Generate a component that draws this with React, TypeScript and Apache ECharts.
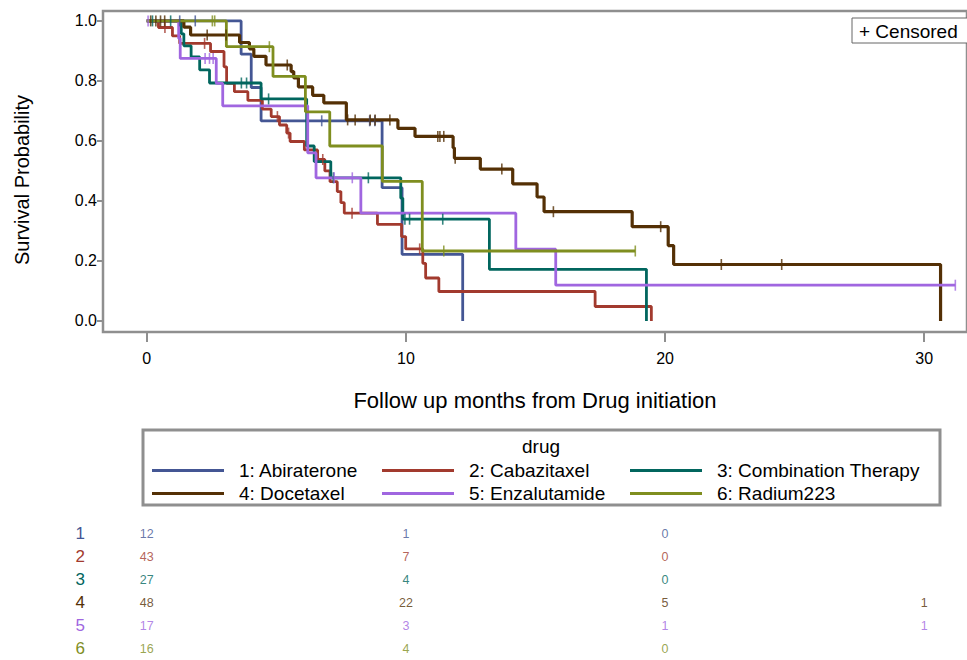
import React, { useEffect, useRef } from "react";
import * as echarts from "echarts";

const FONT = "'Liberation Sans', Arial, sans-serif";

const DRUGS = [
  "1: Abiraterone",
  "2: Cabazitaxel",
  "3: Combination Therapy",
  "4: Docetaxel",
  "5: Enzalutamide",
  "6: Radium223",
];
const COLORS = ["#445694", "#A23A2E", "#01665E", "#543005", "#A066E0", "#7F8E1F"];
const ROWS = ["1", "2", "3", "4", "5", "6"];

// Kaplan-Meier steps: event times (months) and survival after each event; censoring times
const abiTimes = [3.64, 4.03, 4.41, 9.08, 9.85, 12.19];
const abiSurv = [0.889, 0.778, 0.667, 0.444, 0.222, 0];
const abiCensor = [1.27, 1.87, 6.75, 8.6, 8.8];

const cabTimes = [0.45, 0.99, 1.27, 2.46, 2.98, 3.08, 3.38, 3.9, 4.46, 4.8, 5.12, 5.4, 5.53, 6.08, 6.59, 6.87, 7.07, 7.35, 7.49, 7.62, 8.9, 9.83, 9.99, 10.65, 10.76, 11.27, 17.3, 19.47];
const cabSurv = [0.978, 0.95, 0.925, 0.898, 0.847, 0.792, 0.764, 0.735, 0.706, 0.681, 0.653, 0.626, 0.598, 0.57, 0.538, 0.5, 0.464, 0.431, 0.394, 0.359, 0.322, 0.281, 0.24, 0.192, 0.143, 0.098, 0.048, 0];
const cabCensor = [0.7, 2.23, 5.04, 5.47, 6.79, 7.92, 10.53];

const combTimes = [1.33, 1.43, 1.71, 2.04, 2.42, 4.41, 6.17, 6.46, 7.1, 9.8, 9.88, 13.22, 19.28];
const combSurv = [0.957, 0.917, 0.88, 0.837, 0.793, 0.74, 0.583, 0.531, 0.477, 0.409, 0.339, 0.172, 0];
const combCensor = [0.22, 0.92, 3.65, 3.85, 4.7, 7.2, 8.55, 9.96, 10.14, 11.42];

const docTimes = [1.43, 1.69, 3.58, 3.96, 4.13, 4.6, 5.57, 5.67, 5.85, 6.4, 6.83, 7.7, 9.69, 10.35, 11.82, 11.87, 12.87, 14.12, 15.06, 15.33, 18.73, 20.12, 20.33, 30.63];
const docSurv = [0.979, 0.953, 0.928, 0.907, 0.882, 0.853, 0.831, 0.81, 0.78, 0.752, 0.727, 0.67, 0.642, 0.615, 0.577, 0.542, 0.506, 0.457, 0.413, 0.364, 0.314, 0.251, 0.188, 0];
const docCensor = [0.15, 0.35, 0.53, 0.69, 2.33, 3.06, 5.42, 7.75, 8.04, 8.62, 8.81, 9.38, 11.23, 11.31, 11.46, 11.9, 13.7, 15.69, 19.83, 22.17, 24.5];

const enzTimes = [1.23, 1.29, 2.68, 2.93, 6.21, 6.53, 8.26, 14.24, 15.78];
const enzSurv = [0.941, 0.875, 0.792, 0.717, 0.56, 0.477, 0.359, 0.239, 0.119];
const enzCensor = [0.05, 2.25, 2.42, 2.56, 7.23, 7.93, 31.2];

const radTimes = [3.07, 4.87, 6.12, 7.06, 9.09, 10.63];
const radSurv = [0.914, 0.815, 0.697, 0.583, 0.465, 0.233];
const radCensor = [2.53, 2.62, 4.73, 11.46, 18.85];

// Number at risk
const RISK_TIMES = [0, 10, 20, 30];
const abiRisk = [12, 1, 0];
const cabRisk = [43, 7, 0];
const combRisk = [27, 4, 0];
const docRisk = [48, 22, 5, 1];
const enzRisk = [17, 3, 1, 1];
const radRisk = [16, 4, 0];

const X_TICKS = [0, 10, 20, 30];
const Y_TICKS = [0, 0.2, 0.4, 0.6, 0.8, 1.0];
const X_TITLE = "Follow up months from Drug initiation";
const Y_TITLE = "Survival Probability";

const CURVES = [
  { times: abiTimes, surv: abiSurv, censor: abiCensor, risk: abiRisk },
  { times: cabTimes, surv: cabSurv, censor: cabCensor, risk: cabRisk },
  { times: combTimes, surv: combSurv, censor: combCensor, risk: combRisk },
  { times: docTimes, surv: docSurv, censor: docCensor, risk: docRisk },
  { times: enzTimes, surv: enzSurv, censor: enzCensor, risk: enzRisk },
  { times: radTimes, surv: radSurv, censor: radCensor, risk: radRisk },
];

const X_MIN = -1.69;
const X_MAX = 31.65;
const Y_MIN = -0.037;
const Y_MAX = 1.033;

function survivalAt(times: number[], surv: number[], t: number): number {
  let s = 1;
  for (let i = 0; i < times.length; i++) {
    if (times[i] <= t) s = surv[i];
  }
  return s;
}

function stepData(times: number[], surv: number[], censor: number[]): number[][] {
  const pts: number[][] = [[0, 1]];
  times.forEach((t, i) => pts.push([t, surv[i]]));
  const lastEvent = times[times.length - 1];
  const lastCensor = Math.max(...censor);
  if (lastCensor > lastEvent) pts.push([lastCensor, surv[surv.length - 1]]);
  return pts;
}

export default function App() {
  const ref = useRef<HTMLDivElement>(null);

  useEffect(() => {
    if (!ref.current) return;
    const chart = echarts.init(ref.current, undefined, { renderer: "svg" });

    const series: any[] = [];
    CURVES.forEach((c, i) => {
      series.push({
        name: DRUGS[i],
        type: "line",
        step: "end",
        xAxisIndex: 0,
        yAxisIndex: 0,
        data: stepData(c.times, c.surv, c.censor),
        symbol: "none",
        showSymbol: false,
        color: COLORS[i],
        lineStyle: { color: COLORS[i], width: i === 3 ? 3.2 : 2.8 },
        itemStyle: { color: COLORS[i] },
        z: 2,
        silent: true,
      });
      series.push({
        name: DRUGS[i] + " (censored)",
        type: "scatter",
        xAxisIndex: 0,
        yAxisIndex: 0,
        data: c.censor.map((t) => [t, survivalAt(c.times, c.surv, t)]),
        symbol: "rect",
        symbolSize: [1.6, 11],
        itemStyle: { color: COLORS[i] },
        z: 3,
        silent: true,
      });
      series.push({
        name: DRUGS[i] + " (at risk)",
        type: "scatter",
        xAxisIndex: 1,
        yAxisIndex: 1,
        data: c.risk.map((n, j) => [RISK_TIMES[j], ROWS[i], n]),
        symbolSize: 1,
        itemStyle: { color: "rgba(0,0,0,0)" },
        label: {
          show: true,
          position: "inside",
          formatter: (p: any) => String(p.value[2]),
          color: COLORS[i],
          fontSize: 12.5,
          fontFamily: FONT,
        },
        silent: true,
      });
    });

    const colX = [152, 382, 630];
    const rowY = [472, 495];
    const legends = DRUGS.map((d, i) => ({
      left: colX[i % 3],
      top: rowY[Math.floor(i / 3)] - 11,
      data: [d],
      icon: "rect",
      itemWidth: 72,
      itemHeight: 3,
      padding: 0,
      selectedMode: false,
      textStyle: { fontSize: 19, color: "#000", fontFamily: FONT, padding: [0, 0, 0, 10] },
    }));

    chart.setOption({
      animation: false,
      textStyle: { fontFamily: FONT },
      grid: [
        {
          left: 103,
          top: 11,
          width: 867,
          height: 321,
          show: true,
          borderColor: "#8f8f8f",
          borderWidth: 2.5,
          backgroundColor: "transparent",
        },
        { left: 103, top: 522, width: 867, height: 144 },
      ],
      xAxis: [
        {
          type: "value",
          gridIndex: 0,
          min: X_MIN,
          max: X_MAX,
          axisLine: { show: false, onZero: false },
          splitLine: { show: false },
          axisTick: {
            show: true,
            customValues: X_TICKS,
            length: 10,
            lineStyle: { color: "#8f8f8f", width: 2 },
          },
          axisLabel: { customValues: X_TICKS, margin: 18, fontSize: 16, color: "#000", fontFamily: FONT },
          name: X_TITLE,
          nameLocation: "middle",
          nameGap: 57,
          nameTextStyle: { fontSize: 22, color: "#000", fontFamily: FONT },
        },
        { type: "value", gridIndex: 1, min: X_MIN, max: X_MAX, show: false },
      ],
      yAxis: [
        {
          type: "value",
          gridIndex: 0,
          min: Y_MIN,
          max: Y_MAX,
          axisLine: { show: false, onZero: false },
          splitLine: { show: false },
          axisTick: {
            show: true,
            customValues: Y_TICKS,
            length: 6,
            lineStyle: { color: "#8f8f8f", width: 2 },
          },
          axisLabel: {
            customValues: Y_TICKS,
            formatter: (v: number) => v.toFixed(1),
            margin: 6,
            fontSize: 16,
            color: "#000",
            fontFamily: FONT,
          },
        },
        {
          type: "category",
          gridIndex: 1,
          data: ROWS,
          inverse: true,
          axisLine: { show: false },
          axisTick: { show: false },
          splitLine: { show: false },
          axisLabel: {
            margin: 18,
            fontSize: 17,
            fontFamily: FONT,
            color: (_v: any, idx: number) => COLORS[idx],
          },
        },
      ],
      legend: legends,
      graphic: [
        {
          type: "text",
          x: 22,
          y: 180,
          rotation: Math.PI / 2,
          style: {
            text: Y_TITLE,
            fontSize: 20,
            fontFamily: FONT,
            fill: "#000",
            align: "center",
            verticalAlign: "middle",
          },
          silent: true,
        },
        {
          type: "rect",
          shape: { x: 143, y: 430, width: 797, height: 75 },
          style: { fill: "none", stroke: "#8f8f8f", lineWidth: 3 },
          silent: true,
        },
        {
          type: "text",
          x: 541,
          y: 446,
          style: {
            text: "drug",
            fontSize: 19,
            fontFamily: FONT,
            fill: "#000",
            align: "center",
            verticalAlign: "middle",
          },
          silent: true,
        },
        {
          type: "rect",
          shape: { x: 852, y: 18, width: 120, height: 25 },
          style: { fill: "#fff", stroke: "#666", lineWidth: 1 },
          z: 10,
          silent: true,
        },
        {
          type: "text",
          x: 859,
          y: 31,
          z: 11,
          style: {
            text: "+ Censored",
            fontSize: 19,
            fontFamily: FONT,
            fill: "#000",
            verticalAlign: "middle",
          },
          silent: true,
        },
      ],
      series,
    });

    return () => chart.dispose();
  }, []);

  return (
    <div
      ref={ref}
      style={{ position: "absolute", left: 0, top: 0, width: 967, height: 660, background: "#fff" }}
    />
  );
}
